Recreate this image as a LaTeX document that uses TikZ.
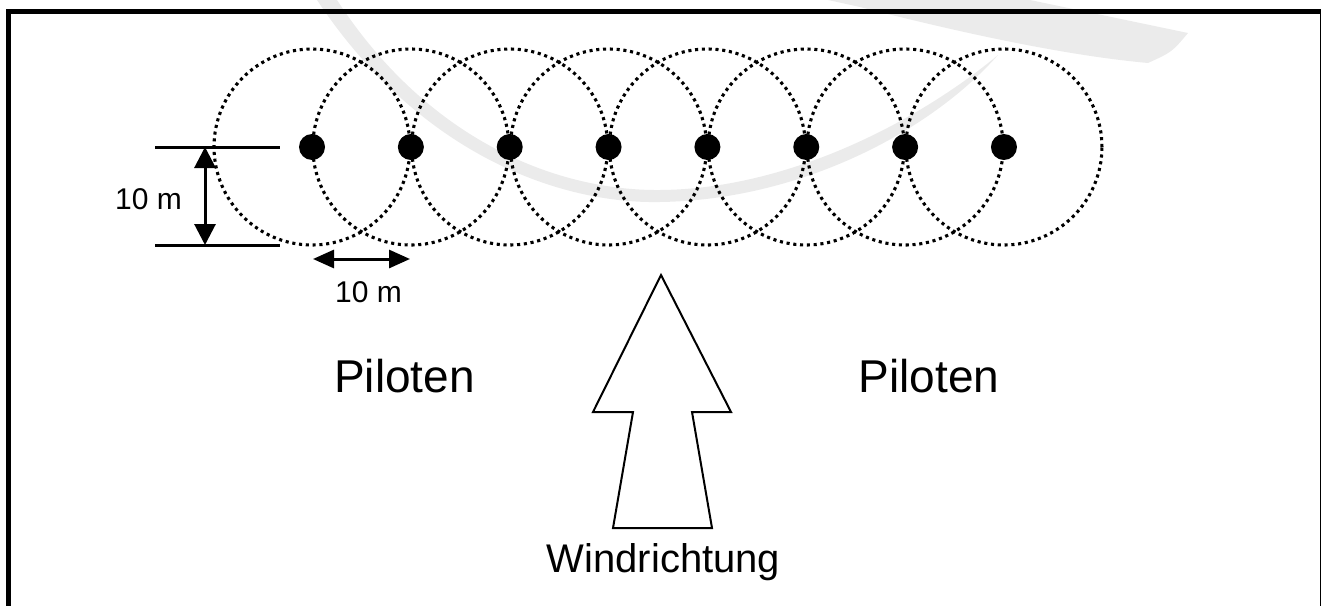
\documentclass[tikz,border=0pt]{standalone}
\usepackage{fontspec}
\setmainfont{Liberation Sans}
\usetikzlibrary{arrows.meta}
\definecolor{swoosh}{RGB}{235,235,235}
\tikzset{
  ring/.style={line width=3.1pt, dash pattern=on 3.1pt off 3.7pt},
  pile/.style={circle, fill=black, inner sep=0pt, minimum size=26pt},
  dimline/.style={line width=3pt},
  dimarrow/.style={line width=3pt, {Triangle[length=21pt,width=21pt]}-{Triangle[length=21pt,width=21pt]}},
  dimarrowh/.style={line width=3pt, {Triangle[length=21pt,width=18pt]}-{Triangle[length=21pt,width=18pt]}},
  label/.style={inner sep=0pt, anchor=base},
  windarrow/.style={draw, line width=2pt, line join=miter, fill=white}
}
\begin{document}
\begin{tikzpicture}[x=1pt, y=-1pt]
  \useasboundingbox (0,0) rectangle (1321,605);

  % light background swoosh
  \fill[swoosh] (317,0) .. controls (420,155) and (560,204) .. (660,202)
    .. controls (800,200) and (930,132) .. (998,55)
    .. controls (920,120) and (790,189) .. (660,190)
    .. controls (560,191) and (430,143) .. (337,0) -- cycle;
  \fill[swoosh] (828,0) -- (1030,0) -- (1188,33) .. controls (1172,52) .. (1148,63)
    .. controls (1060,55) and (950,30) .. (860,7) -- cycle;

  % frame
  \draw[line width=4.8pt, line join=miter] (8.5,612) -- (8.5,11.7) -- (1322.8,11.7) -- (1322.8,612);

  % piles and their 10 m rings
  \foreach \i in {1,...,8} {
    \node[pile] (p\i) at ({312+98.85*(\i-1)},147) {};
  }
  \foreach \i in {1,...,8} {
    \draw[ring] (p\i.center) circle[radius=98pt];
  }

  % vertical dimension
  \coordinate (v1a) at (155,147);
  \coordinate (v1b) at (280,147);
  \coordinate (v2a) at (155,245);
  \coordinate (v2b) at (280,245);
  \coordinate (vt) at (205,147);
  \coordinate (vb) at (205,245);
  \draw[dimline] (v1a) -- (v1b);
  \draw[dimline] (v2a) -- (v2b);
  \draw[dimarrow] (vt) -- (vb);
  \node[label, font=\fontsize{30}{33}\selectfont] (dimv) at (148.5,209) {10 m};

  % horizontal dimension
  \coordinate (hl) at (313,259);
  \coordinate (hr) at (410,259);
  \draw[dimarrowh] (hl) -- (hr);
  \node[label, font=\fontsize{30}{33}\selectfont] (dimh) at (368.5,302) {10 m};

  % pilot areas
  \node[label, font=\fontsize{46}{50}\selectfont] (pilotL) at (404.5,392) {Piloten};
  \node[label, font=\fontsize{46}{50}\selectfont] (pilotR) at (929,392) {Piloten};

  % wind direction arrow
  \draw[windarrow] (661,275) -- (731,412) -- (692,412) -- (712,528)
    -- (613,528) -- (633,412) -- (593,412) -- cycle;
  \node[label, font=\fontsize{40}{44}\selectfont] (wind) at (663.5,572) {Windrichtung};
\end{tikzpicture}
\end{document}
